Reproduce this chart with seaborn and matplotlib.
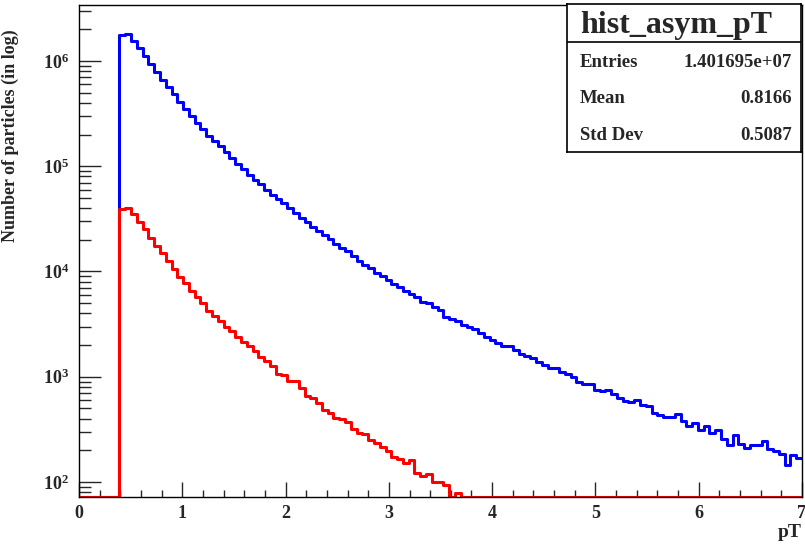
import numpy as np
import pandas as pd
import matplotlib
matplotlib.use('Agg')
import matplotlib.pyplot as plt
from matplotlib.ticker import MultipleLocator, LogLocator, NullFormatter
import seaborn as sns

# pT binning: 125 bins on [0, 7]
pt_min, pt_max, n_bins = 0.0, 7.0, 125

# bin contents, all particles (blue)
all_counts = [0] * 7 + [
    1.77e6, 1.80e6, 1.56e6, 1.32e6, 1.11e6, 9.37e5, 7.91e5, 6.60e5, 5.63e5, 4.86e5,
    4.10e5, 3.47e5, 3.00e5, 2.60e5, 2.25e5, 1.94e5, 1.75e5, 1.54e5, 1.35e5, 1.19e5,
    1.05e5, 9.36e4, 8.26e4, 7.41e4,
    6.79e4, 5.96e4, 5.34e4, 4.86e4, 4.45e4, 4.05e4, 3.62e4, 3.21e4, 2.98e4, 2.67e4,
    2.44e4, 2.22e4, 2.03e4, 1.83e4, 1.66e4, 1.55e4, 1.41e4, 1.27e4, 1.16e4, 1.07e4,
    9760, 9070, 8320, 7620, 7090, 6590, 6130, 5700,
    5180, 5000, 4580, 4320, 3730, 3550, 3350, 3090, 3000, 2830,
    2600, 2380, 2210, 2090, 1970, 1950, 1800, 1650, 1560, 1500,
    1390, 1300, 1210, 1200, 1120, 1060, 991, 900, 857, 850,
    752, 724, 740, 688, 626, 582, 580, 595, 533, 530,
    451, 435, 413, 410, 441, 376, 342, 363, 313, 342,
    295, 313, 255, 225, 281, 229, 210, 225, 225, 243,
    205, 198, 185, 146, 181, 169,
]

# bin contents, asymmetric selection (red)
asym_counts = [0] * 7 + [
    3.93e4, 4.05e4, 3.50e4, 2.98e4, 2.54e4, 2.10e4, 1.76e4, 1.49e4, 1.26e4, 1.06e4,
    8950, 7740, 6550, 5780, 5000, 4230, 3810, 3400, 3000, 2690,
    2360, 2130, 1940, 1760, 1550, 1420, 1260, 1060, 1040, 920,
    915, 780, 659, 627, 562, 478, 451, 405, 400, 368,
    318, 295, 287, 252, 237, 214, 195, 172, 165, 153,
    162, 121, 113, 120, 99, 101, 94, 0, 79,
] + [0] * 59

stats_title = 'hist_asym_pT'
stats_names = ['Entries', 'Mean', 'Std Dev']
stats_values = ['1.401695e+07', '0.8166', '0.5087']

sns.set_style('white')
plt.rcParams['font.family'] = ['Liberation Serif', 'DejaVu Serif']
plt.rcParams['font.weight'] = 'bold'
plt.rcParams['axes.labelweight'] = 'bold'

ymin, ymax = 72, 3.4e6
edges = np.linspace(pt_min, pt_max, n_bins + 1)


def step_frame(counts):
    y = np.append(np.asarray(counts, dtype=float), counts[-1])
    # ROOT draws empty / below-range bins on the bottom of the frame
    return pd.DataFrame({'pT': edges, 'n': np.clip(y, ymin, None)})


fig = plt.figure(figsize=(8.05, 5.51), dpi=100)
W, H = 805, 551
ax = fig.add_axes([79 / W, (H - 497) / H, (802 - 79) / W, (497 - 5) / H])

sns.lineplot(data=step_frame(all_counts), x='pT', y='n', drawstyle='steps-post',
             color='#0000ff', lw=2.2, estimator=None, sort=False, ax=ax)
sns.lineplot(data=step_frame(asym_counts), x='pT', y='n', drawstyle='steps-post',
             color='#ff0000', lw=2.2, estimator=None, sort=False, ax=ax)

ax.set_yscale('log')
ax.set_xlim(pt_min, pt_max)
ax.set_ylim(ymin, ymax)

ax.xaxis.set_major_locator(MultipleLocator(1))
ax.xaxis.set_minor_locator(MultipleLocator(0.2))
ax.yaxis.set_major_locator(LogLocator(base=10))
ax.yaxis.set_minor_locator(LogLocator(base=10, subs=np.arange(2, 10)))
ax.yaxis.set_minor_formatter(NullFormatter())

ax.tick_params(axis='x', which='major', direction='in', length=10.8, width=1, pad=6,
               labelsize=13, bottom=True, top=False)
ax.tick_params(axis='x', which='minor', direction='in', length=5, width=1,
               bottom=True, top=False)
ax.tick_params(axis='y', which='major', direction='in', length=15.8, width=1, pad=7,
               labelsize=13, left=True, right=False)
ax.tick_params(axis='y', which='minor', direction='in', length=8.6, width=1,
               left=True, right=False)
for lab in ax.get_xticklabels() + ax.get_yticklabels():
    lab.set_fontweight('bold')

for sp in ax.spines.values():
    sp.set_color('black')
    sp.set_linewidth(1)

ax.set_xlabel('pT', fontsize=14, fontweight='bold', loc='right')
ax.xaxis.set_label_coords(1.0, -0.055)
ax.set_ylabel('Number of particles (in log)', fontsize=13, fontweight='bold', loc='top')
ax.yaxis.set_label_coords(-0.083, 0.95)

# stats box
box = fig.add_axes([567 / W, (H - 152) / H, (801 - 567) / W, (152 - 4) / H])
box.set_xlim(0, 1)
box.set_ylim(0, 1)
box.set_xticks([])
box.set_yticks([])
box.set_facecolor('white')
for sp in box.spines.values():
    sp.set_color('black')
    sp.set_linewidth(1.2)
box.axhline(1 - (41.7 - 4) / 148, color='black', lw=1.2)
box.text(0.466, 1 - (33.3 - 4) / 148, stats_title, ha='center', va='baseline',
         fontsize=23, fontweight='bold')
for i, (name, val) in enumerate(zip(stats_names, stats_values)):
    yb = 1 - (66.7 + 36.5 * i - 4) / 148
    box.text(0.056, yb, name, ha='left', va='baseline', fontsize=13.5, fontweight='bold')
    box.text(0.962, yb, val, ha='right', va='baseline', fontsize=13.5, fontweight='bold')

fig.savefig('out.png', dpi=100)
